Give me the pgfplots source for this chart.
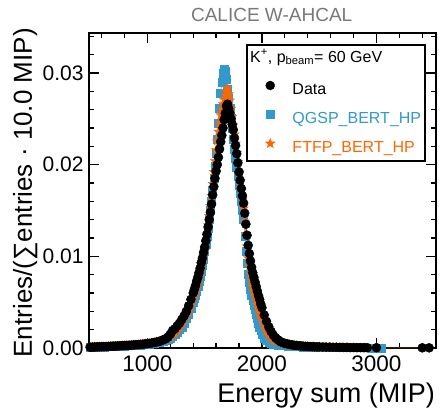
\documentclass[border=0pt]{standalone}
\usepackage{pgfplots}
\pgfplotsset{compat=1.18}
\usepackage{fontspec}
\setmainfont{Liberation Sans}
\definecolor{qblue}{RGB}{51,153,204}
\definecolor{forange}{RGB}{255,102,0}
\definecolor{tgray}{RGB}{120,120,120}
\pgfdeclareplotmark{fstar}{%
  \pgfpathmoveto{\pgfpointpolar{90}{1\pgfplotmarksize}}%
  \pgfpathlineto{\pgfpointpolar{126}{0.42\pgfplotmarksize}}%
  \pgfpathlineto{\pgfpointpolar{162}{1\pgfplotmarksize}}%
  \pgfpathlineto{\pgfpointpolar{198}{0.42\pgfplotmarksize}}%
  \pgfpathlineto{\pgfpointpolar{234}{1\pgfplotmarksize}}%
  \pgfpathlineto{\pgfpointpolar{270}{0.42\pgfplotmarksize}}%
  \pgfpathlineto{\pgfpointpolar{306}{1\pgfplotmarksize}}%
  \pgfpathlineto{\pgfpointpolar{342}{0.42\pgfplotmarksize}}%
  \pgfpathlineto{\pgfpointpolar{18}{1\pgfplotmarksize}}%
  \pgfpathlineto{\pgfpointpolar{54}{0.42\pgfplotmarksize}}%
  \pgfpathclose\pgfusepathqfillstroke}
\begin{document}
\begin{tikzpicture}
\useasboundingbox (-89pt,-59pt) rectangle (350pt,348pt);
\begin{axis}[
  at={(0,0)}, anchor=south west,
  scale only axis, width=347pt, height=315pt,
  xmin=490, xmax=3520, ymin=0, ymax=0.03436,
  axis line style={line width=1.5pt, black},
  tick style={line width=1.3pt, black},
  tick align=inside,
  major tick length=10pt, minor tick length=5pt,
  xtick={1000,2000,3000},
  minor xtick={600,800,1200,1400,1600,1800,2200,2400,2600,2800,3200,3400},
  ytick={0,0.01,0.02,0.03},
  minor ytick={0.002,0.004,0.006,0.008,0.012,0.014,0.016,0.018,0.022,0.024,0.026,0.028,0.032,0.034},
  scaled y ticks=false,
  /pgf/number format/assume math mode=true,
  yticklabel style={/pgf/number format/fixed, /pgf/number format/precision=2, /pgf/number format/fixed zerofill, font=\fontsize{21}{21}\selectfont, xshift=-2pt},
  xticklabel style={/pgf/number format/1000 sep={}, font=\fontsize{22.5}{22.5}\selectfont, yshift=-4pt},
  clip=false,
  legend image code/.code={\draw[#1] plot coordinates {(0pt,5pt)};},
  legend style={at={(0.5086,0.8476)}, anchor=north west, draw=none, fill=none,
    inner sep=0pt, outer sep=0pt, row sep=11.5pt, column sep=17.5pt,
    nodes={inner sep=0pt, text height=12pt, text depth=4pt, font=\fontsize{16}{16}\selectfont}},
  legend cell align=left,
]
\addlegendimage{only marks, mark=*, black, mark size=4.5pt}
\addlegendentry{Data}
\addlegendimage{only marks, mark=square*, qblue, mark size=4pt}
\addlegendentry{\textcolor{qblue}{QGSP\_BERT\_HP}}
\addlegendimage{only marks, mark=fstar, forange, mark size=5pt}
\addlegendentry{\textcolor{forange}{FTFP\_BERT\_HP}}

% QGSP_BERT_HP
\addplot[forget plot, qblue, line width=0.5pt, mark=square*, mark size=4pt, mark options={fill=qblue, draw=qblue}] coordinates {
(500,0.00007) (520,0.00008) (540,0.0001) (560,0.00011) (580,0.00011) (600,0.00012)
(620,0.00013) (640,0.00014) (660,0.00015) (680,0.00016) (700,0.00017) (720,0.00018)
(740,0.0002) (760,0.00021) (780,0.00022) (800,0.00023) (820,0.00025) (840,0.00026)
(860,0.00028) (880,0.00029) (900,0.0003) (920,0.00032) (940,0.00034) (960,0.00036)
(980,0.00038) (1000,0.0004) (1020,0.00044) (1040,0.00048) (1060,0.00053) (1080,0.00058)
(1100,0.00064) (1120,0.0007) (1140,0.00077) (1160,0.00085) (1180,0.00097) (1200,0.0011)
(1220,0.0013) (1240,0.0015) (1260,0.0017) (1280,0.002) (1300,0.0023) (1320,0.0027)
(1340,0.0032) (1360,0.0037) (1380,0.0043)
(1400,0.0050) (1410,0.0054) (1420,0.0058) (1430,0.0062) (1440,0.0067) (1450,0.0073)
(1460,0.0078) (1470,0.0084) (1480,0.0090) (1490,0.0097) (1500,0.0105) (1510,0.0113)
(1520,0.0122) (1530,0.0131) (1540,0.0140) (1550,0.0150) (1560,0.0160) (1570,0.0172)
(1580,0.0185) (1590,0.0198) (1600,0.0212) (1610,0.0228) (1620,0.0245) (1630,0.0262)
(1640,0.0278) (1650,0.0290) (1660,0.0300) (1670,0.0304) (1680,0.0302) (1690,0.0293)
(1700,0.0282) (1710,0.0272) (1720,0.0262) (1730,0.0251) (1740,0.0240) (1750,0.0228)
(1760,0.0217) (1770,0.0207) (1780,0.0197) (1790,0.0187) (1800,0.0178) (1810,0.0169)
(1820,0.0160) (1830,0.0150) (1840,0.0140) (1850,0.0122) (1860,0.0105) (1870,0.0092)
(1880,0.0080) (1890,0.0072) (1900,0.0064) (1910,0.0058) (1920,0.0052) (1930,0.0047)
(1940,0.0042) (1950,0.0037) (1960,0.0032) (1970,0.0027) (1980,0.0023) (1990,0.0019)
(2000,0.0015) (2020,0.0011) (2040,0.0008) (2060,0.0006) (2080,0.0005) (2100,0.00045)
(2120,0.0004) (2140,0.00035) (2160,0.0003) (2180,0.00027) (2200,0.00025) (2230,0.00022)
(2260,0.0002) (2290,0.00017) (2320,0.00015) (2360,0.00013) (2400,0.00012) (2440,0.00011)
(2480,0.0001) (2520,0.00009) (2560,0.00008) (2600,0.00007) (2640,0.00006) (2680,0.00005)
(2720,0.00005) (2760,0.00004) (2800,0.00004) (2880,0.00003) (2960,0.00002) (3040,0.00001)
};
% FTFP_BERT_HP
\addplot[forget plot, forange, line width=0.5pt, mark=fstar, mark size=5pt, mark options={fill=forange, draw=forange, line width=0.3pt}] coordinates {
(500,0.0001) (520,0.0001) (540,0.00011) (560,0.00012) (580,0.00013) (600,0.00015)
(620,0.00016) (640,0.00016) (660,0.00017) (680,0.00019) (700,0.0002) (720,0.00021)
(740,0.00022) (760,0.00024) (780,0.00026) (800,0.00027) (820,0.00029) (840,0.0003)
(860,0.00032) (880,0.00034) (900,0.00036) (920,0.00038) (940,0.0004) (960,0.00043)
(980,0.00045) (1000,0.00048) (1020,0.00052) (1040,0.00056) (1060,0.00061) (1080,0.00066)
(1100,0.00072) (1120,0.0008) (1140,0.00088) (1160,0.00098) (1180,0.0011) (1200,0.0012)
(1220,0.0014) (1240,0.0016) (1260,0.0019) (1280,0.0022) (1300,0.0026) (1320,0.003)
(1340,0.0035) (1360,0.004) (1380,0.0046)
(1400,0.0053) (1410,0.0057) (1420,0.0061) (1430,0.0065) (1440,0.0070) (1450,0.0075)
(1460,0.0080) (1470,0.0086) (1480,0.0092) (1490,0.0099) (1500,0.0106) (1510,0.0115)
(1520,0.0124) (1530,0.0134) (1540,0.0144) (1550,0.0155) (1560,0.0166) (1570,0.0179)
(1580,0.0192) (1590,0.0204) (1600,0.0216) (1610,0.0226) (1620,0.0236) (1630,0.0245)
(1640,0.0254) (1650,0.0260) (1660,0.0266) (1670,0.0271) (1680,0.0276) (1690,0.0280)
(1700,0.0283) (1710,0.0277) (1720,0.0270) (1730,0.0261) (1740,0.0252) (1750,0.0243)
(1760,0.0233) (1770,0.0223) (1780,0.0213) (1790,0.0203) (1800,0.0192) (1810,0.0182)
(1820,0.0172) (1830,0.0162) (1840,0.0152) (1850,0.0138) (1860,0.0124) (1870,0.0111)
(1880,0.0098) (1890,0.0089) (1900,0.0080) (1910,0.0073) (1920,0.0067) (1930,0.0062)
(1940,0.0057) (1950,0.0052) (1960,0.0047) (1970,0.0043) (1980,0.0039) (1990,0.0035)
(2000,0.0031) (2020,0.0024) (2040,0.0018) (2060,0.0014) (2080,0.0011) (2100,0.0009)
(2120,0.0008) (2140,0.0007) (2160,0.0006) (2180,0.0005) (2200,0.00045) (2220,0.0004)
(2240,0.00035) (2260,0.0003) (2280,0.00027) (2300,0.00025) (2350,0.0002) (2400,0.00018)
(2450,0.00015) (2500,0.00012) (2550,0.0001) (2600,0.00009) (2650,0.00007) (2700,0.00006)
(2750,0.00005) (2800,0.00004) (2900,0.00003) (3000,0.00002)
};
\addplot[forget plot, forange, line width=0.6pt, no marks] coordinates {
(3000,0.00002) (3100,0.00001) (3200,0.00001) (3300,0.00001) (3400,0.00001) (3500,0.00001)
};
% Data
\addplot[forget plot, black, line width=0.5pt, mark=*, mark size=4.5pt, mark options={fill=black}] coordinates {
(500,0.00008) (520,0.0001) (540,0.00011) (560,0.00012) (580,0.00013) (600,0.00014)
(620,0.00015) (640,0.00016) (660,0.00017) (680,0.00019) (700,0.0002) (720,0.00021)
(740,0.00022) (760,0.00024) (780,0.00026) (800,0.00027) (820,0.00028) (840,0.0003)
(860,0.00031) (880,0.00033) (900,0.00035) (920,0.00037) (940,0.00039) (960,0.00042)
(980,0.00045) (1000,0.00047) (1020,0.0005) (1040,0.00055) (1060,0.0006) (1080,0.00065)
(1100,0.0007) (1120,0.0008) (1140,0.0009) (1160,0.001) (1180,0.0012) (1200,0.0015)
(1220,0.0019) (1240,0.0021) (1260,0.0024) (1280,0.0027) (1300,0.0031) (1320,0.0035)
(1340,0.0040) (1360,0.0046) (1380,0.0053)
(1400,0.0060) (1410,0.0064) (1420,0.0068) (1430,0.0073) (1440,0.0077) (1450,0.0082)
(1460,0.0087) (1470,0.0093) (1480,0.0098) (1490,0.0104) (1500,0.0110) (1510,0.0117)
(1520,0.0124) (1530,0.0132) (1540,0.0140) (1550,0.0148) (1560,0.0157) (1570,0.0167)
(1580,0.0176) (1590,0.0185) (1600,0.0193) (1610,0.0200) (1620,0.0208) (1630,0.0217)
(1640,0.0225) (1650,0.0232) (1660,0.0240) (1670,0.0249) (1680,0.0256) (1690,0.0264)
(1700,0.0266) (1710,0.0261) (1720,0.0256) (1730,0.0250) (1740,0.0244) (1750,0.0238)
(1760,0.0229) (1770,0.0221) (1780,0.0212) (1790,0.0202) (1800,0.0192) (1810,0.0183)
(1820,0.0174) (1830,0.0166) (1840,0.0158) (1850,0.0147) (1860,0.0135) (1870,0.0123)
(1880,0.0112) (1890,0.0103) (1900,0.0095) (1910,0.0088) (1920,0.0082) (1930,0.0077)
(1940,0.0072) (1950,0.0067) (1960,0.0062) (1970,0.0057) (1980,0.0053) (1990,0.0048)
(2000,0.0044) (2020,0.0036) (2040,0.0029) (2060,0.0023) (2080,0.0018) (2100,0.0014)
(2120,0.0011) (2140,0.0009) (2160,0.0007) (2180,0.0006) (2200,0.0005) (2220,0.00045)
(2240,0.0004) (2260,0.00035) (2280,0.0003) (2300,0.00028) (2320,0.00025) (2340,0.00022)
(2360,0.0002) (2380,0.00018) (2400,0.00017) (2420,0.00016) (2440,0.00014) (2460,0.00013)
(2480,0.00012) (2500,0.00012) (2530,0.00011) (2560,0.0001) (2590,0.00009) (2620,0.00008)
(2650,0.00008) (2680,0.00007) (2710,0.00006) (2740,0.00006) (2770,0.00005) (2800,0.00005)
(2830,0.00004) (2860,0.00004) (2890,0.00003) (2920,0.00003) (3000,0.00003) (3400,0.00002)
(3460,0.00002)
};
\draw[line width=1.2pt, fill=white] (rel axis cs:0.4553,0.5937) rectangle (rel axis cs:0.9683,0.9619);
\node[anchor=base west, font=\fontsize{16}{16}\selectfont, inner sep=0pt] at (rel axis cs:0.464,0.9079) {K\textsuperscript{+}, p\textsubscript{beam}= 60 GeV};
\node[anchor=base, font=\fontsize{19}{19}\selectfont, text=tgray, inner sep=0pt, yshift=11pt] at (rel axis cs:0.5265,1) {CALICE W-AHCAL};
\node[anchor=base east, font=\fontsize{27}{27}\selectfont, inner sep=0pt, yshift=-54pt, xshift=-1pt] at (rel axis cs:1,0) {Energy sum (MIP)};
\node[xshift=-57pt, yshift=5pt, anchor=base east, rotate=90, font=\fontsize{26}{26}\selectfont, inner sep=0pt] at (rel axis cs:0,1) {Entries/(∑entries · 10.0 MIP)};
\end{axis}
\end{tikzpicture}
\end{document}
